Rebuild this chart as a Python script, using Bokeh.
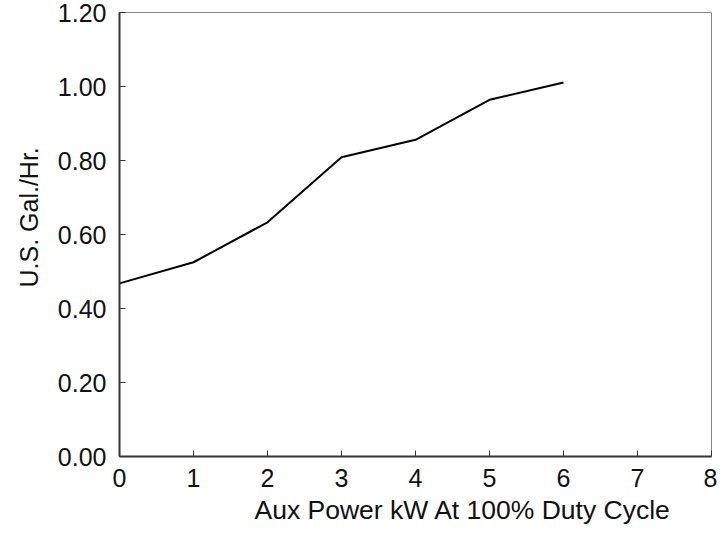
from bokeh.plotting import figure
from bokeh.models import FixedTicker, Range1d, Title
from bokeh.embed import file_html
from bokeh.resources import INLINE

# Data
aux_power_kw = [0, 1, 2, 3, 4, 5, 6]
gal_per_hr = [0.468, 0.525, 0.633, 0.809, 0.856, 0.964, 1.011]

x_ticks = [0, 1, 2, 3, 4, 5, 6, 7, 8]
y_ticks = [0.0, 0.2, 0.4, 0.6, 0.8, 1.0, 1.2]
y_tick_labels = ["0.00", "0.20", "0.40", "0.60", "0.80", "1.00", "1.20"]

x_title = "Aux Power kW At 100% Duty Cycle"
y_title = "U.S. Gal./Hr."

FONT = "Liberation Sans"
FS = "25px"
TXT = "#111111"

p = figure(width=717, height=527, output_backend="svg", toolbar_location=None,
           x_range=Range1d(0, 8), y_range=Range1d(0, 1.2),
           min_border_left=118, min_border_right=6, min_border_top=12,
           min_border_bottom=71)

p.grid.visible = False
p.background_fill_color = "white"
p.border_fill_color = "white"
p.outline_line_color = "#888888"
p.outline_line_width = 1

p.xaxis.ticker = FixedTicker(ticks=x_ticks)
p.yaxis.ticker = FixedTicker(ticks=y_ticks)
p.yaxis.major_label_overrides = {t: l for t, l in zip(y_ticks, y_tick_labels)}

for ax in (p.xaxis, p.yaxis):
    ax.axis_line_color = "#333333"
    ax.axis_line_width = 2
    ax.major_tick_line_color = "#333333"
    ax.major_tick_line_width = 1
    ax.major_tick_in = 6
    ax.major_tick_out = 0
    ax.minor_tick_line_color = None
    ax.major_label_text_font = FONT
    ax.major_label_text_font_size = FS
    ax.major_label_text_color = TXT

p.xaxis.major_label_standoff = 12
p.yaxis.major_label_standoff = 13

p.line(aux_power_kw, gal_per_hr, line_color="black", line_width=2)

# Axis titles, placed off-centre as in the reference
p.add_layout(Title(text=x_title, text_font=FONT, text_font_size="26.5px",
                   text_color=TXT, text_font_style="normal", align="left",
                   offset=135, standoff=6), "below")
p.add_layout(Title(text=y_title, text_font=FONT, text_font_size=FS,
                   text_color=TXT, text_font_style="normal", align="left",
                   offset=169, standoff=24), "left")

open("out.html", "w").write(file_html(p, INLINE))
